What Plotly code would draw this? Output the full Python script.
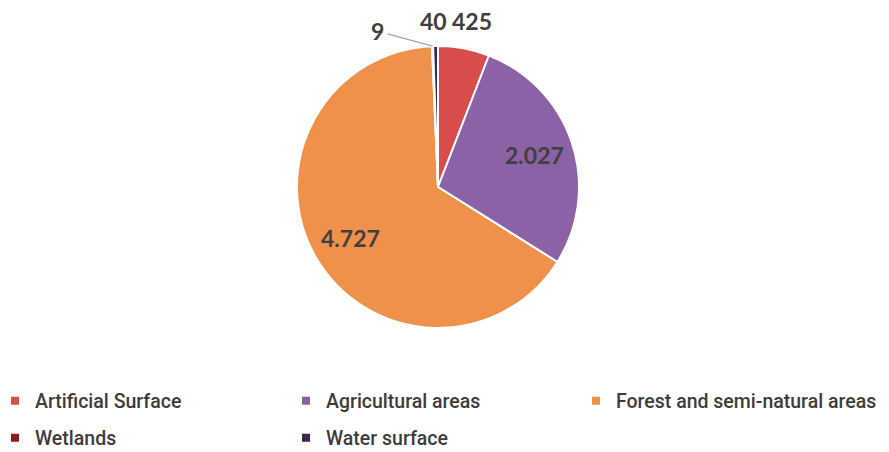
import math
import plotly.graph_objects as go

labels = ["Artificial Surface", "Agricultural areas", "Forest and semi-natural areas", "Wetlands", "Water surface"]
values = [425, 2027, 4727, 9, 40]
text_labels = ["425", "2.027", "4.727", "9", "40"]
colors = ["#D94C4C", "#8A62A5", "#EF914B", "#8C1C22", "#3E2852"]
legend_col = [0, 1, 2, 0, 1]
legend_row = [0, 0, 0, 1, 1]

W, H = 889, 452
ML, MR, MT, MB = 0, 13, 46, 124
PW, PH = W - ML - MR, H - MT - MB
R = min(PW, PH) / 2.0

fig = go.Figure()
fig.add_trace(go.Pie(
    labels=labels,
    values=values,
    textinfo="none",
    sort=False,
    direction="clockwise",
    rotation=0,
    marker=dict(colors=colors, line=dict(color="white", width=2)),
    showlegend=False,
    hoverinfo="label+value",
))

# legend entries: one small legend per grid cell (3 columns x 2 rows)
col_marker_px = [14, 305, 595]
row_center_px = [401, 438]
legend_layouts = {}
for i, (lab, col) in enumerate(zip(labels, colors)):
    key = "legend" if i == 0 else "legend%d" % (i + 1)
    fig.add_trace(go.Scatter(
        x=[None], y=[None], mode="markers", name=lab,
        marker=dict(symbol="square", size=8, color=col),
        legend=key, showlegend=True, hoverinfo="skip",
    ))
    legend_layouts[key] = dict(
        orientation="h",
        x=(col_marker_px[legend_col[i]] - 19 - ML) / PW, xanchor="left",
        y=(PH - (row_center_px[legend_row[i]] - MT)) / PH, yanchor="middle",
        itemwidth=30,
        font=dict(family="Roboto", size=19.5, color="#3C3C3C", weight=500),
        bgcolor="rgba(0,0,0,0)",
    )

# slice label annotations, positioned from cumulative slice angles
total = float(sum(values))
label_font = dict(family="Lato", size=23, color="#404040", weight="bold")
offsets = {  # (radius fraction, ax, ay, arrow visible)
    "425": (1.0, 8, -27, False),
    "2.027": (0.72, 0, 0, None),
    "4.727": (0.72, 0, 0, None),
    "9": (1.0, -55, -15, True),
    "40": (1.0, -2, -25, False),
}
cum = 0.0
for v, t in zip(values, text_labels):
    mid = (cum + v / 2.0) / total * 2 * math.pi
    cum += v
    frac, ax, ay, arrow = offsets[t]
    r = frac * R
    xp = 0.5 + r * math.sin(mid) / PW
    yp = 0.5 + r * math.cos(mid) / PH
    if arrow is None:
        fig.add_annotation(x=xp, y=yp, xref="paper", yref="paper", text=t,
                           showarrow=False, font=label_font,
                           xanchor="center", yanchor="middle")
    else:
        fig.add_annotation(x=xp, y=yp, xref="paper", yref="paper", text=t,
                           showarrow=True, ax=ax, ay=ay, arrowhead=0,
                           arrowwidth=1.3,
                           arrowcolor="#A6A6A6" if arrow else "rgba(0,0,0,0)",
                           standoff=0, startstandoff=2,
                           font=label_font)

fig.update_layout(
    width=W, height=H,
    margin=dict(l=ML, r=MR, t=MT, b=MB, autoexpand=False),
    paper_bgcolor="white",
    plot_bgcolor="white",
    showlegend=True,
    xaxis=dict(visible=False),
    yaxis=dict(visible=False),
    **legend_layouts,
)

fig.write_html(
    "out.html",
    config={"displayModeBar": False},
    post_script="document.body.style.margin='0';document.body.style.padding='0';",
)
